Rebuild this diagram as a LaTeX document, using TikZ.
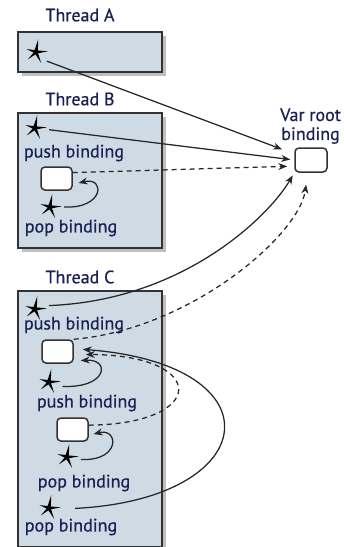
\documentclass[tikz,border=0pt]{standalone}
\usepackage{fontspec}
\newfontfamily\capfont{PT Sans}[FakeBold=0.6]
\usetikzlibrary{shapes,arrows.meta,shadows,positioning}

\definecolor{threadbg}{RGB}{206,219,229}
\definecolor{inkblue}{RGB}{24,32,84}
\definecolor{rim}{RGB}{50,50,50}

\tikzset{
  thread/.style={draw=rim, line width=1.5pt, fill=threadbg, anchor=north west, inner sep=0pt,
    drop shadow={shadow xshift=4pt, shadow yshift=-4pt, opacity=0.5}},
  caption/.style={font=\capfont\fontsize{18}{19}\selectfont, text=inkblue, inner sep=0pt},
  slot/.style={draw=rim, line width=1.5pt, fill=white, rounded corners=4pt,
    minimum width=31pt, minimum height=23pt, inner sep=0pt},
  spark/.style={circle, minimum size=28pt, inner sep=0pt,
    path picture={\fill[black, shift={(path picture bounding box.center)}]
      (80:13pt) -- (125:2.4pt) -- (163:10pt) -- (195:2.4pt) -- (222:11pt)
      -- (258:2.4pt) -- (295:12pt) -- (330:2.4pt) -- (3:12pt) -- (40:2.4pt) -- cycle;}},
  link/.style={draw=black!85, line width=1.25pt, -{Stealth[length=9pt,width=7pt]}},
  weak/.style={link, dash pattern=on 5pt off 4pt},
}

\begin{document}
\begin{tikzpicture}[x=1pt, y=-1pt]
  \useasboundingbox (0,0) rectangle (344,547);

  % thread boxes
  \node[caption] (titleA) at (80,15) {Thread A};
  \node[thread, minimum width=144pt, minimum height=40pt] (threadA) at (17,31) {};
  \node[caption] (titleB) at (80,99) {Thread B};
  \node[thread, minimum width=144pt, minimum height=135pt] (threadB) at (17,112) {};
  \node[caption] (titleC) at (80,277) {Thread C};
  \node[thread, minimum width=144pt, minimum height=256pt] (threadC) at (17,290) {};

  % root binding
  \node[slot, minimum width=32pt, minimum height=24pt] (root) at (311,160) {};
  \node[caption, align=center, anchor=south west] (rootcap) at (280,144) {Var root\\binding};

  % thread A
  \node[spark] (sparkA) at (36,52) {};

  % thread B
  \node[spark] (sparkB1) at (35,128) {};
  \node[caption] (pushB) at (74,153) {push binding};
  \node[slot] (slotB) at (56.5,178.5) {};
  \node[spark] (sparkB2) at (50,207) {};
  \node[caption] (popB) at (71,228) {pop binding};

  % thread C
  \node[spark] (sparkC1) at (35,309) {};
  \node[caption] (pushC1) at (74,325) {push binding};
  \node[slot] (slotC1) at (57.5,351.5) {};
  \node[spark] (sparkC2) at (49,382) {};
  \node[caption] (pushC2) at (87,403) {push binding};
  \node[slot] (slotC2) at (72.5,429.5) {};
  \node[spark] (sparkC3) at (67,457) {};
  \node[caption] (popC1) at (84,483) {pop binding};
  \node[spark] (sparkC4) at (49,508) {};
  \node[caption] (popC2) at (71,527) {pop binding};

  % connectors
  \draw[link, shorten >=13pt] (sparkA.-40) -- (root.160);
  \draw[link, shorten >=4pt] (sparkB1.-7) -- (root.west);
  \draw[weak, shorten >=7pt] (slotB.20) -- (root.200);
  \draw[link, shorten >=6pt] (sparkB2.0) .. controls +(40,2) and +(33,-8) .. (slotB.-20);

  \draw[link, shorten >=3pt] (sparkC1.14) .. controls +(135,-5) and +(-25,43) .. (root.south west);
  \draw[weak, shorten >=12pt] (slotC1.north east) .. controls +(117,-10) and +(-8,62) .. (root.255);
  \draw[link, shorten >=7pt] (sparkC2.-18) .. controls +(45,2) and +(37,-2) .. (slotC1.-30);
  \draw[weak, shorten >=12pt] (slotC2.15) .. controls +(119,-1) and +(135,1) .. (slotC1.-10);
  \draw[link, shorten >=5pt] (sparkC3.-10) .. controls +(40,2) and +(30,-8) .. (slotC2.-20);
  \draw[link, shorten <=12pt, shorten >=9pt] (sparkC4.-4) .. controls +(200,-10) and +(207,16) .. (slotC1.10);
\end{tikzpicture}
\end{document}
